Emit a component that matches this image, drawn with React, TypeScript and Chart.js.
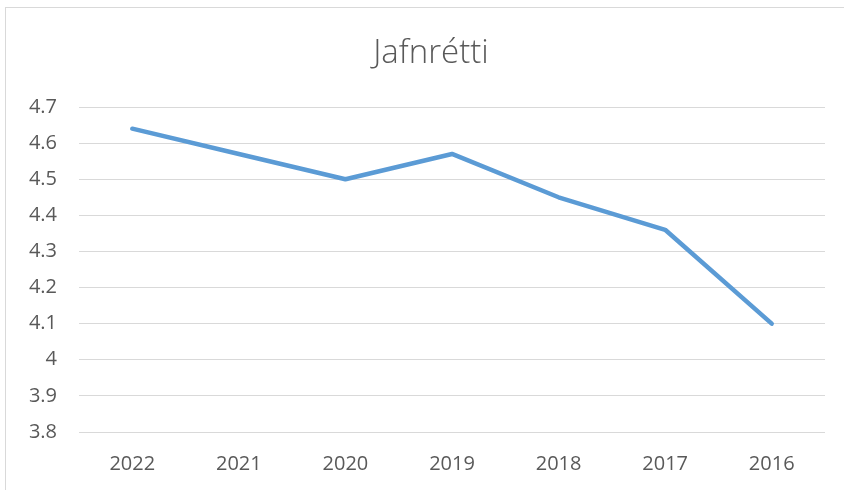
import React, { useEffect, useRef } from "react";
import { Chart, registerables } from "chart.js";

Chart.register(...registerables);

const categories = ["2022", "2021", "2020", "2019", "2018", "2017", "2016"];
const values = [4.64, 4.57, 4.5, 4.57, 4.45, 4.36, 4.1];
const yMin = 3.8;
const yMax = 4.7;
const yStep = 0.1;
const title = "Jafnrétti";

export default function App() {
  const ref = useRef<HTMLCanvasElement | null>(null);
  useEffect(() => {
    if (!ref.current) return;
    const chart = new Chart(ref.current, {
      type: "line",
      data: {
        labels: categories,
        datasets: [
          {
            data: values,
            borderColor: "#5B9BD5",
            borderWidth: 4.5,
            pointRadius: 0,
            tension: 0,
            borderCapStyle: "round",
            borderJoinStyle: "round",
            fill: false,
          },
        ],
      },
      options: {
        animation: false,
        responsive: false,
        maintainAspectRatio: false,
        layout: { padding: { left: 0, right: 19, top: 107, bottom: 0 } },
        plugins: {
          legend: { display: false },
          tooltip: { enabled: false },
          title: { display: false },
        },
        scales: {
          x: {
            offset: true,
            grid: { display: false, drawTicks: false },
            border: { display: false },
            ticks: {
              color: "#595959",
              font: { family: "'Open Sans'", size: 20 },
              padding: 20,
              maxRotation: 0,
            },
            afterFit: (s: any) => {
              s.height = 58;
            },
          },
          y: {
            min: yMin,
            max: yMax,
            grid: { color: "#d9d9d9", lineWidth: 1, drawTicks: false },
            border: { display: false },
            ticks: {
              stepSize: yStep,
              color: "#595959",
              font: { family: "'Open Sans'", size: 20 },
              padding: 22,
              callback: (v: any) => String(Math.round(Number(v) * 10) / 10),
            },
            afterFit: (s: any) => {
              s.width = 79;
            },
          },
        },
      },
    });
    return () => chart.destroy();
  }, []);
  return (
    <div
      style={{
        position: "fixed",
        left: 0,
        top: 0,
        width: 844,
        height: 490,
        overflow: "hidden",
        background: "#fff",
      }}
    >
      <div
        style={{
          position: "absolute",
          left: 5,
          top: 7,
          width: 900,
          height: 600,
          border: "1px solid #d9d9d9",
        }}
      />
      <canvas
        ref={ref}
        width={844}
        height={490}
        style={{ position: "absolute", left: 0, top: 0, width: 844, height: 490 }}
      />
      <div
        style={{
          position: "absolute",
          left: 0,
          top: 31,
          width: 862,
          textAlign: "center",
          fontFamily: "'Open Sans'",
          fontWeight: 300,
          fontSize: 33,
          lineHeight: "40px",
          color: "#595959",
        }}
      >
        {title}
      </div>
    </div>
  );
}
